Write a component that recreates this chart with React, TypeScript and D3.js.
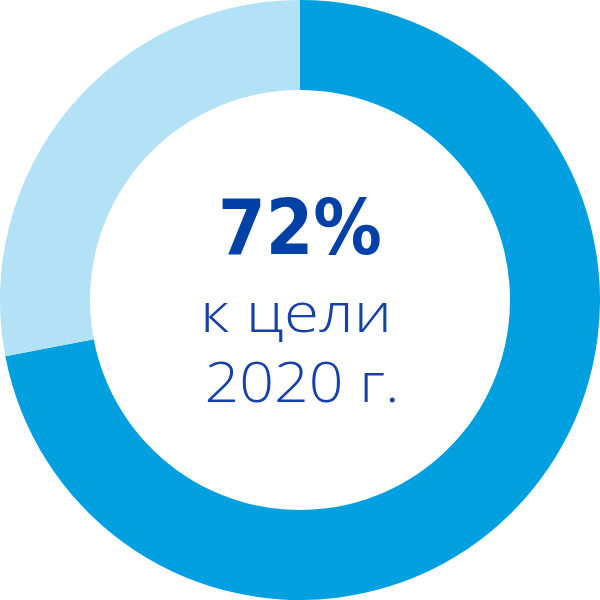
import React from 'react';
import * as d3 from 'd3';

const categories = ['Выполнено', 'Осталось'];
const values = [72, 28];
const colors = ['#009FDF', '#B3E1F5'];
const labelMain = '72%';
const labelSub = ['к цели', '2020 г.'];

const W = 600;
const H = 600;

const App: React.FC = () => {
  const outer = 300;
  const inner = 210;

  const pie = d3.pie<number>().sort(null).value(d => d);
  const arcs = pie(values);
  const arc = d3.arc<d3.PieArcDatum<number>>()
    .innerRadius(inner)
    .outerRadius(outer);

  return (
    <div style={{ position: 'absolute', left: 0, top: 0, width: W, height: H, background: '#fff' }}>
      <svg width={W} height={H}>
        <g transform={`translate(${W / 2},${H / 2})`}>
          {arcs.map((a, i) => (
            <path key={categories[i]} d={arc(a) || ''} fill={colors[i]} />
          ))}
        </g>
        <text x={300} y={254} textAnchor="middle" fill="#0041A8"
          fontFamily="'DejaVu Sans', sans-serif" fontWeight={700} fontSize={76}
          textLength={164} lengthAdjust="spacingAndGlyphs">{labelMain}</text>
        <text x={296} y={332} textAnchor="middle" fill="#1541A8"
          fontFamily="'Open Sans', sans-serif" fontWeight={300} fontSize={56}
          textLength={192} lengthAdjust="spacingAndGlyphs">{labelSub[0]}</text>
        <text x={302} y={402} textAnchor="middle" fill="#1541A8"
          fontFamily="'Open Sans', sans-serif" fontWeight={300} fontSize={56}
          textLength={195} lengthAdjust="spacingAndGlyphs">{labelSub[1]}</text>
      </svg>
    </div>
  );
};

export default App;
